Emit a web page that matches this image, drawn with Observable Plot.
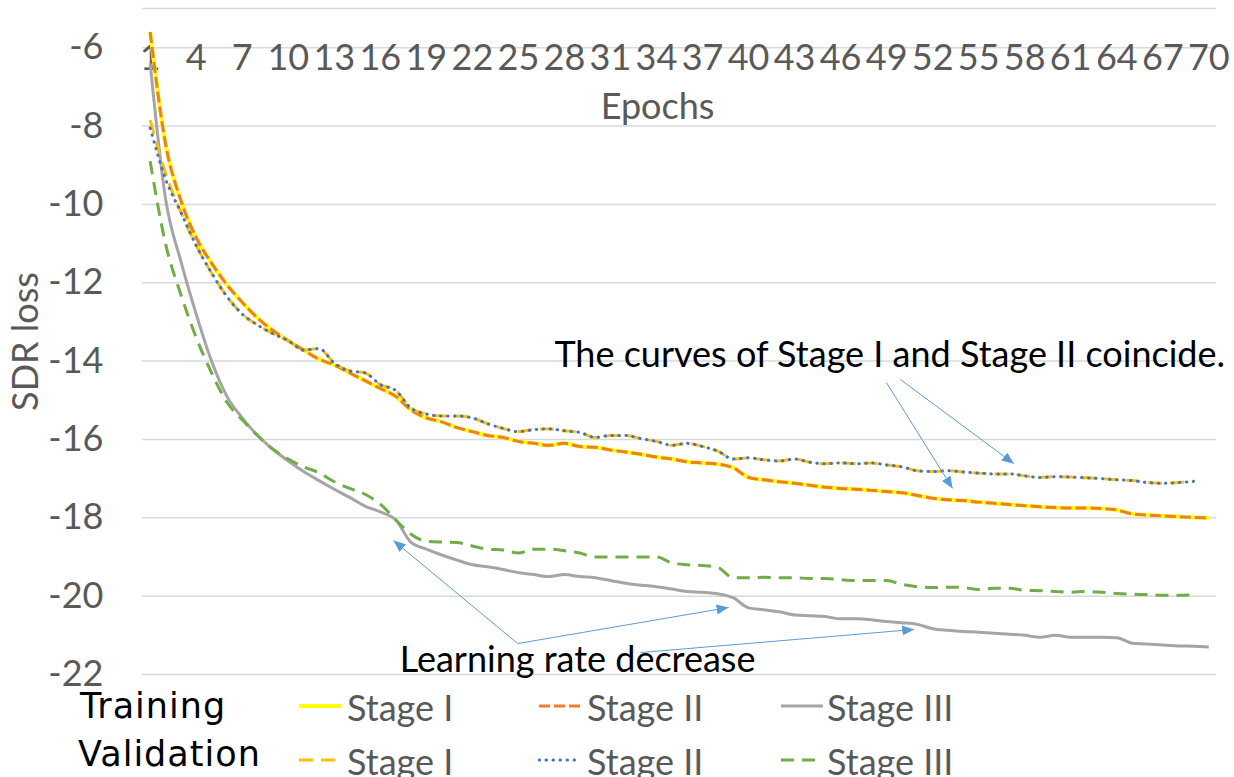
<!DOCTYPE html>
<html>
<head>
<meta charset="utf-8">
<script src="https://cdn.jsdelivr.net/npm/d3@7"></script>
<script src="https://cdn.jsdelivr.net/npm/@observablehq/plot@0.6"></script>
<style>
  html, body { margin: 0; padding: 0; background: #fff; }
  #wrap { position: relative; width: 1234px; height: 777px; overflow: hidden; }
  #legend { position: relative; width: 1234px; height: 97px; }
  .lg { position: absolute; white-space: nowrap; line-height: 1; transform: translateY(-50%); }
  .grp { font-family: "DejaVu Sans", sans-serif; font-size: 35px; letter-spacing: 1px; color: #000; }
  .itm { font-family: Lato, sans-serif; font-size: 36px; color: #595959; }
  .sw { position: absolute; transform: translateY(-50%); }
</style>
</head>
<body>
<div id="wrap">
  <div id="chart"></div>
  <div id="legend"></div>
</div>
<script>
// ---- data ----
const epochs = [1,2,3,4,5,6,7,8,9,10,11,12,13,14,15,16,17,18,19,20,21,22,23,24,25,26,27,28,29,30,31,32,33,34,35,36,37,38,39,40,41,42,43,44,45,46,47,48,49,50,51,52,53,54,55,56,57,58,59,60,61,62,63,64,65,66,67,68,69,70];

const trainStageI = [-5.6,-8.45,-9.9,-10.85,-11.5,-12.05,-12.5,-12.9,-13.22,-13.48,-13.72,-13.95,-14.1,-14.3,-14.5,-14.7,-14.9,-15.25,-15.45,-15.55,-15.7,-15.8,-15.9,-15.95,-16.05,-16.1,-16.15,-16.1,-16.18,-16.2,-16.27,-16.32,-16.38,-16.45,-16.5,-16.57,-16.6,-16.63,-16.72,-16.97,-17.03,-17.08,-17.12,-17.17,-17.22,-17.25,-17.27,-17.3,-17.33,-17.36,-17.43,-17.5,-17.54,-17.56,-17.6,-17.63,-17.66,-17.69,-17.72,-17.74,-17.75,-17.75,-17.76,-17.8,-17.9,-17.93,-17.95,-17.97,-17.99,-18.0];
const trainStageII = [-5.6,-8.45,-9.9,-10.85,-11.5,-12.05,-12.5,-12.9,-13.22,-13.48,-13.72,-13.95,-14.1,-14.3,-14.5,-14.7,-14.9,-15.25,-15.45,-15.55,-15.7,-15.8,-15.9,-15.95,-16.05,-16.1,-16.15,-16.1,-16.18,-16.2,-16.27,-16.32,-16.38,-16.45,-16.5,-16.57,-16.6,-16.63,-16.72,-16.97,-17.03,-17.08,-17.12,-17.17,-17.22,-17.25,-17.27,-17.3,-17.33,-17.36,-17.43,-17.5,-17.54,-17.56,-17.6,-17.63,-17.66,-17.69,-17.72,-17.74,-17.75,-17.75,-17.76,-17.8,-17.9,-17.93,-17.95,-17.97,-17.99,-18.0];
const trainStageIII = [-6.4,-9.85,-11.45,-12.8,-14.0,-14.9,-15.45,-15.9,-16.25,-16.55,-16.82,-17.05,-17.27,-17.48,-17.7,-17.85,-18.05,-18.63,-18.8,-18.95,-19.08,-19.2,-19.25,-19.32,-19.4,-19.45,-19.5,-19.45,-19.5,-19.53,-19.6,-19.67,-19.72,-19.76,-19.82,-19.88,-19.9,-19.94,-20.04,-20.3,-20.35,-20.4,-20.48,-20.5,-20.52,-20.58,-20.58,-20.6,-20.65,-20.68,-20.72,-20.83,-20.87,-20.9,-20.92,-20.95,-20.97,-21.0,-21.05,-21.0,-21.05,-21.05,-21.05,-21.06,-21.2,-21.22,-21.25,-21.27,-21.28,-21.3];

const valStageI = [-7.85,-9.2,-10.2,-11.05,-11.75,-12.35,-12.8,-13.08,-13.3,-13.48,-13.72,-13.68,-14.05,-14.25,-14.3,-14.6,-14.75,-15.2,-15.35,-15.4,-15.4,-15.45,-15.6,-15.72,-15.8,-15.75,-15.73,-15.78,-15.82,-15.95,-15.9,-15.9,-15.98,-16.05,-16.15,-16.1,-16.18,-16.3,-16.5,-16.47,-16.52,-16.55,-16.5,-16.58,-16.62,-16.6,-16.62,-16.6,-16.65,-16.7,-16.8,-16.82,-16.8,-16.83,-16.86,-16.88,-16.88,-16.93,-16.97,-16.95,-16.96,-16.98,-17.0,-17.03,-17.05,-17.1,-17.12,-17.1,-17.07];
const valStageII = [-8.05,-9.35,-10.2,-11.05,-11.75,-12.35,-12.8,-13.08,-13.3,-13.48,-13.72,-13.68,-14.05,-14.25,-14.3,-14.6,-14.75,-15.2,-15.35,-15.4,-15.4,-15.45,-15.6,-15.72,-15.8,-15.75,-15.73,-15.78,-15.82,-15.95,-15.9,-15.9,-15.98,-16.05,-16.15,-16.1,-16.18,-16.3,-16.5,-16.47,-16.52,-16.55,-16.5,-16.58,-16.62,-16.6,-16.62,-16.6,-16.65,-16.7,-16.8,-16.82,-16.8,-16.83,-16.86,-16.88,-16.88,-16.93,-16.97,-16.95,-16.96,-16.98,-17.0,-17.03,-17.05,-17.1,-17.12,-17.1,-17.07];
const valStageIII = [-8.9,-11.0,-12.3,-13.4,-14.3,-15.05,-15.5,-15.9,-16.25,-16.5,-16.7,-16.85,-17.08,-17.25,-17.4,-17.65,-18.05,-18.42,-18.6,-18.62,-18.63,-18.72,-18.8,-18.82,-18.9,-18.8,-18.8,-18.84,-18.9,-19.0,-19.0,-19.0,-19.0,-19.0,-19.15,-19.2,-19.22,-19.27,-19.53,-19.53,-19.52,-19.53,-19.53,-19.55,-19.55,-19.58,-19.6,-19.6,-19.6,-19.7,-19.76,-19.78,-19.77,-19.78,-19.83,-19.8,-19.8,-19.85,-19.86,-19.88,-19.9,-19.88,-19.9,-19.93,-19.95,-19.96,-19.98,-19.98,-19.96];

const xTickLabels = [1,4,7,10,13,16,19,22,25,28,31,34,37,40,43,46,49,52,55,58,61,64,67,70];
const yTickLabels = [-22,-20,-18,-16,-14,-12,-10,-8,-6];
const gridLevels = [-22,-20,-18,-16,-14,-12,-10,-8,-6,-5];
const xDomain = [0.5, 70.5];
const yDomain = [-22, -5];

const seriesNames = ["Stage I", "Stage II", "Stage III"];
const groupNames = ["Training", "Validation"];

// annotation texts and arrows (data units: epoch, SDR loss)
const noteTexts = [
  {label: "The curves of Stage I and Stage II coincide.", epoch: 49.2, loss: -13.86},
  {label: "Learning rate decrease", epoch: 28.86, loss: -21.65}
];
const noteArrows = [
  {e1: 48.99, l1: -14.55, e2: 53.3, l2: -17.25},
  {e1: 49.9, l1: -14.47, e2: 57.3, l2: -16.62},
  {e1: 24.95, l1: -21.21, e2: 16.86, l2: -18.58},
  {e1: 24.95, l1: -21.21, e2: 38.7, l2: -20.29},
  {e1: 32.97, l1: -21.44, e2: 50.8, l2: -20.85}
];

// ---- styles ----
const styles = [
  {group: 0, s: 0, values: trainStageI, stroke: "#FFFF00", width: 4, dash: null, cap: "butt"},
  {group: 0, s: 1, values: trainStageII, stroke: "#ED7D31", width: 3, dash: "11,4", cap: "butt"},
  {group: 0, s: 2, values: trainStageIII, stroke: "#A5A5A5", width: 3, dash: null, cap: "butt"},
  {group: 1, s: 0, values: valStageI, stroke: "#FFC000", width: 3, dash: "14,8", cap: "butt"},
  {group: 1, s: 1, values: valStageII, stroke: "#4472C4", width: 3, dash: "0.5,6.5", cap: "round"},
  {group: 1, s: 2, values: valStageIII, stroke: "#70AD47", width: 3, dash: "13,8", cap: "butt"}
];

const lineMarks = styles.map(st => {
  const rows = st.values.map((v, i) => ({epoch: epochs[i], loss: v}));
  return Plot.line(rows, {
    x: "epoch", y: "loss", stroke: st.stroke, strokeWidth: st.width,
    strokeDasharray: st.dash || undefined, strokeLinecap: st.cap, strokeLinejoin: "round",
    curve: "monotone-x"
  });
});

const chart = Plot.plot({
  width: 1234,
  height: 680,
  marginLeft: 142,
  marginRight: 18,
  marginTop: 8,
  marginBottom: 6,
  x: {domain: xDomain},
  y: {domain: yDomain},
  style: {fontFamily: "Lato, sans-serif", color: "#595959", background: "#fff", overflow: "visible"},
  marks: [
    Plot.gridY(gridLevels, {stroke: "#D9D9D9", strokeOpacity: 1, strokeWidth: 1.5}),
    Plot.axisY(yTickLabels, {tickSize: 0, tickPadding: 39, label: null, fontSize: 36, fill: "#595959", tickFormat: d => `${d}`}),
    Plot.axisX(xTickLabels, {anchor: "top", tickSize: 0, tickPadding: -50, lineAnchor: "middle", label: null, fontSize: 36, fill: "#595959", tickFormat: d => `${d}`}),
    ...lineMarks,
    Plot.link(noteArrows, {x1: "e1", y1: "l1", x2: "e2", y2: "l2", stroke: "#5B9BD5", strokeWidth: 1}),
    Plot.text(noteTexts, {x: "epoch", y: "loss", text: "label", fill: "#000", fontSize: 36}),
    Plot.text(["Epochs"], {frameAnchor: "top", dx: -22, dy: 99, lineAnchor: "middle", textAnchor: "middle", fontSize: 36, fill: "#595959"}),
    Plot.text(["SDR loss"], {frameAnchor: "left", dx: -116, rotate: -90, textAnchor: "middle", lineAnchor: "middle", fontSize: 36, fill: "#595959"})
  ]
});

// filled arrowheads for annotation links
(function addArrowHeads(svg) {
  const ns = "http://www.w3.org/2000/svg";
  const defs = document.createElementNS(ns, "defs");
  const marker = document.createElementNS(ns, "marker");
  marker.setAttribute("id", "triHead");
  marker.setAttribute("markerUnits", "userSpaceOnUse");
  marker.setAttribute("markerWidth", "12");
  marker.setAttribute("markerHeight", "10");
  marker.setAttribute("viewBox", "0 0 12 10");
  marker.setAttribute("refX", "12");
  marker.setAttribute("refY", "5");
  marker.setAttribute("orient", "auto");
  const p = document.createElementNS(ns, "path");
  p.setAttribute("d", "M0,0L12,5L0,10Z");
  p.setAttribute("fill", "#5B9BD5");
  marker.appendChild(p);
  defs.appendChild(marker);
  svg.insertBefore(defs, svg.firstChild);
  svg.querySelectorAll('g[aria-label="link"] path').forEach(el => el.setAttribute("marker-end", "url(#triHead)"));
})(chart);

document.getElementById("chart").appendChild(chart);

// ---- legend (HTML below the SVG) ----
const legend = document.getElementById("legend");
const rowY = [26, 74];
const groupX = [80, 78];
const swatchX = [298, 538, 780];
const labelX = [347, 587, 827];
groupNames.forEach((g, gi) => {
  const d = document.createElement("div");
  d.className = "lg grp";
  d.style.left = groupX[gi] + "px";
  d.style.top = rowY[gi] + "px";
  d.textContent = g;
  legend.appendChild(d);
});
styles.forEach(st => {
  const y = st.group === 0 ? rowY[0] : rowY[1] + 6;
  const sw = document.createElementNS("http://www.w3.org/2000/svg", "svg");
  sw.setAttribute("width", "44");
  sw.setAttribute("height", "10");
  sw.setAttribute("class", "sw");
  sw.style.left = swatchX[st.s] + "px";
  sw.style.top = y + "px";
  const ln = document.createElementNS("http://www.w3.org/2000/svg", "line");
  ln.setAttribute("x1", "1"); ln.setAttribute("x2", "43");
  ln.setAttribute("y1", "5"); ln.setAttribute("y2", "5");
  ln.setAttribute("stroke", st.stroke);
  ln.setAttribute("stroke-width", st.width);
  if (st.dash) ln.setAttribute("stroke-dasharray", st.dash);
  ln.setAttribute("stroke-linecap", st.cap);
  sw.appendChild(ln);
  legend.appendChild(sw);
  const t = document.createElement("div");
  t.className = "lg itm";
  t.style.left = labelX[st.s] + "px";
  t.style.top = (y + 1) + "px";
  t.textContent = seriesNames[st.s];
  legend.appendChild(t);
});
</script>
</body>
</html>
